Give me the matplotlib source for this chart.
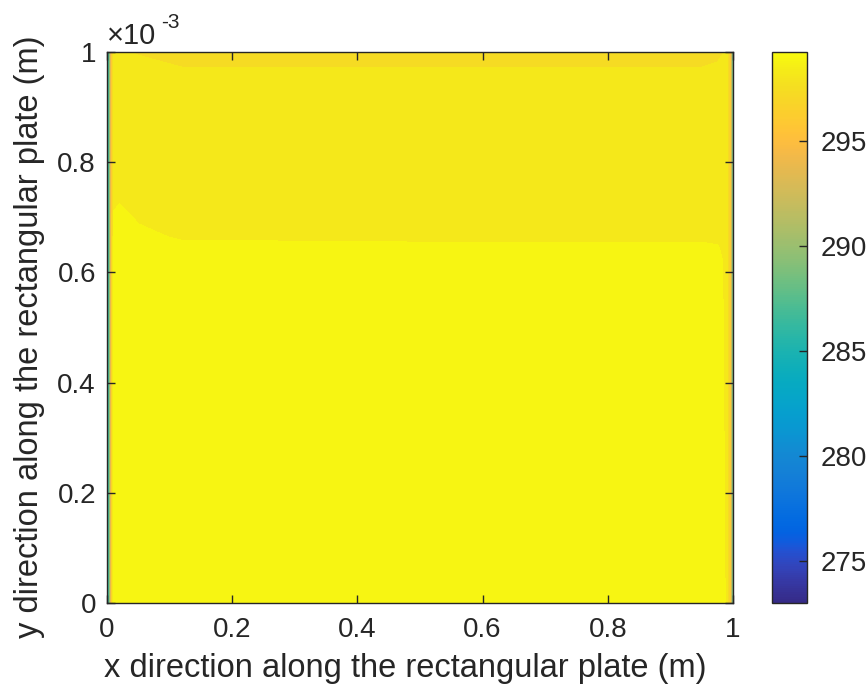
import numpy as np
import matplotlib
matplotlib.use("Agg")
import matplotlib.pyplot as plt
from matplotlib.colors import LinearSegmentedColormap, Normalize
from matplotlib.cm import ScalarMappable
from matplotlib.ticker import FuncFormatter

plt.rcParams["font.family"] = ["Liberation Sans", "DejaVu Sans"]

# grid nodes (x in m, y in m)
x_nodes = [0, 0.004, 0.007, 0.011, 0.02, 0.05, 0.12, 0.5, 0.95, 0.975, 0.99, 0.995, 0.998, 1.0]
y_nodes = [0, 0.3e-3, 0.62e-3, 0.645e-3, 0.665e-3, 0.70e-3, 0.73e-3, 0.9e-3, 0.96e-3, 0.985e-3, 1.0e-3]

# temperature (K), one row per y node
T_rows = [
    [285, 288, 295.5, 299.0, 299.0, 299.0, 299.0, 299.0, 299.0, 299.0, 298.4, 296.0, 290, 287],
    [285, 288, 295.5, 299.0, 299.0, 299.0, 299.0, 299.0, 299.0, 299.0, 298.3, 296.0, 290, 287],
    [285, 288, 295.5, 299.0, 299.0, 299.0, 299.0, 299.0, 299.0, 298.9, 298.2, 296.0, 290, 287],
    [285, 288, 295.5, 299.0, 299.0, 299.0, 298.9, 298.8, 298.8, 298.6, 298.1, 296.0, 290, 287],
    [285, 288, 295.5, 299.0, 299.0, 298.9, 298.3, 298.2, 298.2, 298.2, 298.1, 296.0, 290, 287],
    [285, 288, 295.5, 298.7, 299.0, 298.3, 298.1, 298.1, 298.1, 298.1, 298.1, 296.0, 290, 287],
    [285, 288, 295.5, 298.2, 298.4, 298.1, 298.1, 298.1, 298.1, 298.1, 298.1, 296.0, 290, 287],
    [285, 288, 295.5, 298.1, 298.1, 298.1, 298.1, 298.1, 298.1, 298.1, 298.1, 296.0, 290, 287],
    [285, 288, 295.5, 298.1, 298.1, 298.1, 298.1, 298.1, 298.1, 298.1, 298.1, 296.0, 290, 287],
    [285, 288, 295.5, 298.1, 298.1, 298.0, 297.4, 297.4, 297.4, 297.7, 298.1, 296.0, 290, 287],
    [285, 288, 295.0, 298.0, 298.0, 297.6, 297.3, 297.3, 297.3, 297.4, 297.9, 295.5, 290, 287],
]

t_min, t_max = 273.0, 299.25
cbar_ticks = [275, 280, 285, 290, 295]
x_ticks = [0, 0.2, 0.4, 0.6, 0.8, 1.0]
y_ticks = [0, 0.2e-3, 0.4e-3, 0.6e-3, 0.8e-3, 1.0e-3]

parula_data = [
    [0.2081, 0.1663, 0.5292], [0.2116, 0.1898, 0.5777], [0.2123, 0.2138, 0.6270], [0.2081, 0.2386, 0.6771],
    [0.1959, 0.2645, 0.7279], [0.1707, 0.2919, 0.7792], [0.1253, 0.3242, 0.8303], [0.0591, 0.3598, 0.8683],
    [0.0117, 0.3875, 0.8820], [0.0060, 0.4086, 0.8828], [0.0165, 0.4266, 0.8786], [0.0329, 0.4430, 0.8720],
    [0.0498, 0.4586, 0.8641], [0.0629, 0.4737, 0.8554], [0.0723, 0.4887, 0.8467], [0.0779, 0.5040, 0.8384],
    [0.0793, 0.5200, 0.8312], [0.0749, 0.5375, 0.8263], [0.0641, 0.5570, 0.8240], [0.0488, 0.5772, 0.8228],
    [0.0343, 0.5966, 0.8199], [0.0265, 0.6137, 0.8135], [0.0239, 0.6287, 0.8038], [0.0231, 0.6418, 0.7913],
    [0.0228, 0.6535, 0.7768], [0.0267, 0.6642, 0.7607], [0.0384, 0.6743, 0.7436], [0.0590, 0.6838, 0.7254],
    [0.0843, 0.6928, 0.7062], [0.1133, 0.7015, 0.6859], [0.1453, 0.7098, 0.6646], [0.1801, 0.7177, 0.6424],
    [0.2178, 0.7250, 0.6193], [0.2586, 0.7317, 0.5954], [0.3022, 0.7376, 0.5712], [0.3482, 0.7424, 0.5473],
    [0.3953, 0.7459, 0.5244], [0.4420, 0.7481, 0.5033], [0.4871, 0.7491, 0.4840], [0.5300, 0.7491, 0.4661],
    [0.5709, 0.7485, 0.4494], [0.6099, 0.7473, 0.4337], [0.6473, 0.7456, 0.4188], [0.6834, 0.7435, 0.4044],
    [0.7184, 0.7411, 0.3905], [0.7525, 0.7384, 0.3768], [0.7858, 0.7356, 0.3633], [0.8185, 0.7327, 0.3498],
    [0.8507, 0.7299, 0.3360], [0.8824, 0.7274, 0.3217], [0.9139, 0.7258, 0.3063], [0.9450, 0.7261, 0.2886],
    [0.9739, 0.7314, 0.2666], [0.9938, 0.7455, 0.2403], [0.9990, 0.7653, 0.2164], [0.9955, 0.7861, 0.1967],
    [0.9880, 0.8066, 0.1794], [0.9789, 0.8271, 0.1633], [0.9697, 0.8481, 0.1475], [0.9626, 0.8705, 0.1309],
    [0.9589, 0.8949, 0.1132], [0.9598, 0.9218, 0.0948], [0.9661, 0.9514, 0.0755], [0.9763, 0.9831, 0.0538],
]
parula = LinearSegmentedColormap.from_list("parula", parula_data, N=256)
norm = Normalize(vmin=t_min, vmax=t_max)

txt_col = (0.15, 0.15, 0.15)

fig = plt.figure(figsize=(8.66, 6.95), dpi=100)
ax = fig.add_axes([107 / 866, 1 - 603 / 695, 626 / 866, 551 / 695])

X, Y = np.meshgrid(x_nodes, y_nodes)
T = np.array(T_rows)
levels = np.arange(t_min, t_max + 0.01, 0.75)
ax.contourf(X, Y, T, levels=levels, cmap=parula, norm=norm)

ax.set_xlim(0, 1)
ax.set_ylim(0, 1e-3)
ax.set_xticks(x_ticks)
ax.set_yticks(y_ticks)
ax.xaxis.set_major_formatter(FuncFormatter(lambda v, p: f"{v:g}"))
ax.yaxis.set_major_formatter(FuncFormatter(lambda v, p: f"{v * 1e3:g}"))
ax.tick_params(direction="in", top=True, right=True, length=6, width=1,
               color=txt_col, labelcolor=txt_col, labelsize=20)
ax.tick_params(axis="x", pad=10)
ax.tick_params(axis="y", pad=8)
for s in ax.spines.values():
    s.set_color(txt_col)
    s.set_linewidth(1.0)

fig.text(107 / 866, 1 - 36 / 695, "\u00d710", fontsize=21, color=txt_col, va="center", ha="left")
fig.text(161 / 866, 1 - 22 / 695, "-3", fontsize=15, color=txt_col, va="center", ha="left")

fig.text(405 / 866, 1 - 668 / 695, "x direction along the rectangular plate (m)",
         fontsize=23.5, color=txt_col, ha="center", va="center")
fig.text(30 / 866, 1 - 337 / 695, "y direction along the rectangular plate (m)",
         fontsize=23.5, color=txt_col, ha="center", va="center", rotation=90)

cax = fig.add_axes([772 / 866, 1 - 603 / 695, 35 / 866, 551 / 695])
cb = fig.colorbar(ScalarMappable(norm=norm, cmap=parula), cax=cax)
cb.set_ticks(cbar_ticks)
cb.ax.tick_params(direction="in", length=6, width=1, color=txt_col,
                  labelcolor=txt_col, labelsize=20, pad=10)
cb.outline.set_edgecolor(txt_col)
cb.outline.set_linewidth(1.0)

fig.savefig("out.png", dpi=100)
